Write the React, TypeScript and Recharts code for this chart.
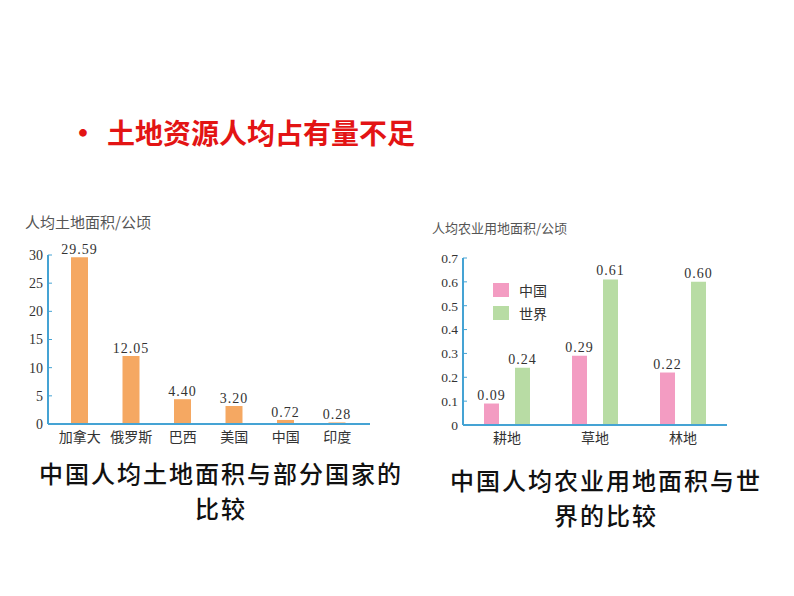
import { BarChart, Bar, XAxis, YAxis, LabelList, Legend } from 'recharts';

const countries = ['加拿大', '俄罗斯', '巴西', '美国', '中国', '印度'];
const landPerCapita = [29.59, 12.05, 4.4, 3.2, 0.72, 0.28];
const landTicks = [0, 5, 10, 15, 20, 25, 30];

const landTypes = ['耕地', '草地', '林地'];
const chinaAgri = [0.09, 0.29, 0.22];
const worldAgri = [0.24, 0.61, 0.6];
const agriTicks = [0, 0.1, 0.2, 0.3, 0.4, 0.5, 0.6, 0.7];

const AXIS = '#45a3d4';
const SERIF = '"Liberation Serif", "Noto Sans CJK SC", serif';
const CJK = '"Noto Sans CJK SC", sans-serif';

const landData = countries.map((name, i) => ({ name, value: landPerCapita[i] }));
const agriData = landTypes.map((name, i) => ({ name, china: chinaAgri[i], world: worldAgri[i] }));

const tickStyle = { fill: '#333', fontSize: 14, fontFamily: SERIF };
const valueStyle = { fill: '#333', fontSize: 14, fontFamily: SERIF, letterSpacing: 1 };

// legend: coloured square + name, one per row
function AgriLegend({ payload }: any) {
  return (
    <div style={{ fontFamily: CJK, fontSize: 14, color: '#333' }}>
      {(payload || []).map((p: any) => (
        <div key={p.value} style={{ display: 'flex', alignItems: 'center', height: 23 }}>
          <span style={{ display: 'inline-block', width: 16, height: 14, background: p.color, marginRight: 10 }} />
          {p.value}
        </div>
      ))}
    </div>
  );
}

export default function App() {
  return (
    <div style={{ position: 'absolute', left: 0, top: 0, width: 794, height: 596, background: '#fff', overflow: 'hidden' }}>
      {/* headline */}
      <div style={{ position: 'absolute', left: 68, top: 111, fontFamily: CJK, fontWeight: 700, fontSize: 28, color: '#e31414', lineHeight: '40px', whiteSpace: 'nowrap' }}>
        <span style={{ display: 'inline-block', width: 39, fontSize: 30 }}>•</span>
        土地资源人均占有量不足
      </div>

      {/* left chart */}
      <div style={{ position: 'absolute', left: 25, top: 211, fontFamily: CJK, fontSize: 15, color: '#555', whiteSpace: 'nowrap' }}>
        人均土地面积/公顷
      </div>
      <div style={{ position: 'absolute', left: 0, top: 230 }}>
        <BarChart width={380} height={220} data={landData} margin={{ top: 25, right: 10, left: 0, bottom: 0 }}>
          <XAxis
            dataKey="name"
            axisLine={{ stroke: AXIS, strokeWidth: 2 }}
            tickLine={false}
            tick={{ fill: '#333', fontSize: 14, fontFamily: CJK }}
            height={26}
            padding={{ left: 6, right: 7 }}
            interval={0}
          />
          <YAxis
            width={48}
            domain={[0, 30]}
            ticks={landTicks}
            axisLine={{ stroke: AXIS, strokeWidth: 2 }}
            tickLine={{ stroke: AXIS }}
            tickSize={-4}
            tickMargin={9}
            tick={tickStyle}
          />
          <Bar dataKey="value" fill="#f5a862" barSize={17} isAnimationActive={false}>
            <LabelList
              dataKey="value"
              position="top"
              offset={3}
              fill="#333"
              formatter={(v: number) => v.toFixed(2)}
              style={valueStyle}
            />
          </Bar>
        </BarChart>
      </div>

      {/* right chart */}
      <div style={{ position: 'absolute', left: 432, top: 218, fontFamily: CJK, fontSize: 13, color: '#555', whiteSpace: 'nowrap' }}>
        人均农业用地面积/公顷
      </div>
      <div style={{ position: 'absolute', left: 420, top: 238 }}>
        <BarChart width={317} height={213} data={agriData} margin={{ top: 20, right: 10, left: 0, bottom: 0 }} barGap={16}>
          <XAxis
            dataKey="name"
            axisLine={{ stroke: AXIS, strokeWidth: 2 }}
            tickLine={false}
            tick={{ fill: '#333', fontSize: 14, fontFamily: CJK }}
            height={26}
            interval={0}
          />
          <YAxis
            width={43}
            domain={[0, 0.7]}
            ticks={agriTicks}
            axisLine={{ stroke: AXIS, strokeWidth: 2 }}
            tickLine={{ stroke: AXIS }}
            tickSize={-4}
            tickMargin={9}
            tick={{ ...tickStyle, fontSize: 13.5 }}
          />
          <Legend
            layout="vertical"
            align="center"
            verticalAlign="middle"
            itemSorter="dataKey"
            content={<AgriLegend />}
            wrapperStyle={{ left: 73, top: 40, width: 'auto' }}
          />
          <Bar dataKey="china" name="中国" fill="#f39cc2" barSize={15} isAnimationActive={false}>
            <LabelList
              dataKey="china"
              position="top"
              offset={4}
              fill="#333"
              formatter={(v: number) => v.toFixed(2)}
              style={valueStyle}
            />
          </Bar>
          <Bar dataKey="world" name="世界" fill="#b8dca4" barSize={15} isAnimationActive={false}>
            <LabelList
              dataKey="world"
              position="top"
              offset={4}
              fill="#333"
              formatter={(v: number) => v.toFixed(2)}
              style={valueStyle}
            />
          </Bar>
        </BarChart>
      </div>

      {/* captions */}
      <div style={{ position: 'absolute', left: 21, width: 400, top: 455, textAlign: 'center', fontFamily: CJK, fontWeight: 500, fontSize: 24, letterSpacing: 2, lineHeight: '35px', color: '#111' }}>
        中国人均土地面积与部分国家的
        <br />
        比较
      </div>
      <div style={{ position: 'absolute', left: 406, width: 400, top: 462, textAlign: 'center', fontFamily: CJK, fontWeight: 500, fontSize: 24, letterSpacing: 2, lineHeight: '35px', color: '#111' }}>
        中国人均农业用地面积与世
        <br />
        界的比较
      </div>
    </div>
  );
}
